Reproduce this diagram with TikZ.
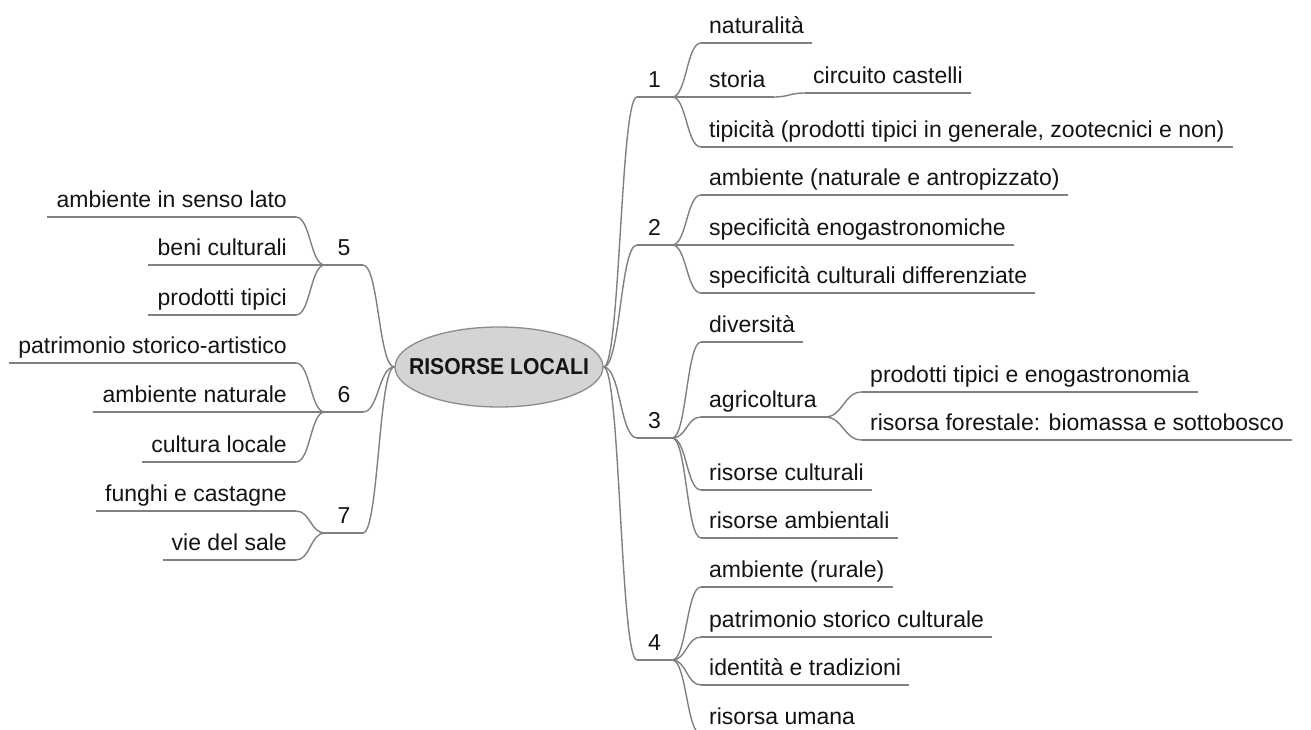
\documentclass[tikz,border=0pt]{standalone}
\usepackage{fontspec}
\usepackage{graphicx}
\setmainfont{Liberation Sans}
\usetikzlibrary{shapes.geometric,calc}

\definecolor{txtc}{RGB}{20,20,20}
\definecolor{linkc}{RGB}{128,128,128}
\definecolor{rootfill}{RGB}{212,212,212}
\definecolor{rootdraw}{RGB}{140,140,140}
\newcommand\mmleaf{\fontsize{23pt}{27pt}\selectfont}
\newcommand\mmroot{\fontsize{23pt}{27pt}\selectfont\bfseries}

\tikzset{
  line/.style={draw=linkc, line width=1.4pt},
  rleaf/.style={anchor=south west, inner xsep=8pt, inner ysep=0pt,
    text height=17pt, text depth=9pt, font=\mmleaf, text=txtc},
  lleaf/.style={rleaf, anchor=south east, inner xsep=9pt},
  rnum/.style={rleaf, inner xsep=11pt},
  lnum/.style={lleaf, inner xsep=12.5pt},
  root/.style={ellipse, draw=rootdraw, fill=rootfill, line width=1.3pt,
    minimum width=208pt, minimum height=80pt, inner sep=0pt,
    font=\mmroot, text=txtc},
  % mind-map connector: horizontal at both ends, turning at mid-x
  link/.style={line, to path={let \p1=(\tikztostart), \p2=(\tikztotarget) in
    .. controls ({0.5*\x1+0.5*\x2},\y1) and ({0.5*\x1+0.5*\x2},\y2) .. (\tikztotarget)}}
}

\begin{document}
\begin{tikzpicture}[x=1pt, y=-1pt]
\fill[white] (0,0) rectangle (1311,730);
\useasboundingbox (0,0) rectangle (1311,730);

% central topic
\node[root] (root) at (499,367) {\makebox[0pt]{\scalebox{0.92}[1]{RISORSE LOCALI}}};

% right-hand branches
\node[rnum] (b1) at (637,97) {1};
\node[rnum] (b2) at (637,245) {2};
\node[rnum] (b3) at (637,438) {3};
\node[rnum] (b4) at (637,660) {4};

\node[rleaf] (n11) at (701,43) {naturalità};
\node[rleaf] (n12) at (701,97) {storia};
\node[rleaf] (n121) at (805,93) {circuito castelli};
\node[rleaf] (n13) at (701,147) {tipicità (prodotti tipici in generale, zootecnici e non)};

\node[rleaf] (n21) at (701,195) {ambiente (naturale e antropizzato)};
\node[rleaf] (n22) at (701,245) {specificità enogastronomiche};
\node[rleaf] (n23) at (701,293) {specificità culturali differenziate};

\node[rleaf] (n31) at (701,342) {diversità};
\node[rleaf] (n32) at (701,417) {agricoltura};
\node[rleaf] (n321) at (862,392) {prodotti tipici e enogastronomia};
\node[rleaf] (n322) at (862,440) {risorsa forestale: biomassa e sottobosco};
\node[rleaf] (n33) at (701,490) {risorse culturali};
\node[rleaf] (n34) at (701,538) {risorse ambientali};

\node[rleaf] (n41) at (701,587) {ambiente (rurale)};
\node[rleaf] (n42) at (701,637) {patrimonio storico culturale};
\node[rleaf] (n43) at (701,685) {identità e tradizioni};
\node[rleaf] (n44) at (701,734) {risorsa umana};

% left-hand branches
\node[lnum] (b5) at (363,265) {5};
\node[lnum] (b6) at (363,412) {6};
\node[lnum] (b7) at (363,533) {7};

\node[lleaf] (n51) at (296,217) {ambiente in senso lato};
\node[lleaf] (n52) at (296,265) {beni culturali};
\node[lleaf] (n53) at (296,315) {prodotti tipici};

\node[lleaf] (n61) at (296,363) {patrimonio storico-artistico};
\node[lleaf] (n62) at (296,412) {ambiente naturale};
\node[lleaf] (n63) at (296,462) {cultura locale};

\node[lleaf] (n71) at (296,511) {funghi e castagne};
\node[lleaf] (n72) at (296,560) {vie del sale};

% underlines of every topic
\foreach \n in {b1,b2,b3,b4,b5,b6,b7,n11,n12,n121,n13,n21,n22,n23,n31,n32,n321,n322,
                n33,n34,n41,n42,n43,n44,n51,n52,n53,n61,n62,n63,n71,n72}
  \draw[line] (\n.south west) -- (\n.south east);

% connectors
\foreach \b in {b1,b2,b3,b4}
  \draw[link] (root.east) to (\b.south west);
\foreach \b in {b5,b6,b7}
  \draw[link] (root.west) to (\b.south east);

\foreach \c in {n11,n12,n13} \draw[link] (b1.south east) to (\c.south west);
\draw[link] (n12.south east) to (n121.south west);
\foreach \c in {n21,n22,n23} \draw[link] (b2.south east) to (\c.south west);
\foreach \c in {n31,n32,n33,n34} \draw[link] (b3.south east) to (\c.south west);
\foreach \c in {n321,n322} \draw[link] (n32.south east) to (\c.south west);
\foreach \c in {n41,n42,n43,n44} \draw[link] (b4.south east) to (\c.south west);

\foreach \c in {n51,n52,n53} \draw[link] (b5.south west) to (\c.south east);
\foreach \c in {n61,n62,n63} \draw[link] (b6.south west) to (\c.south east);
\foreach \c in {n71,n72} \draw[link] (b7.south west) to (\c.south east);
\end{tikzpicture}
\end{document}
